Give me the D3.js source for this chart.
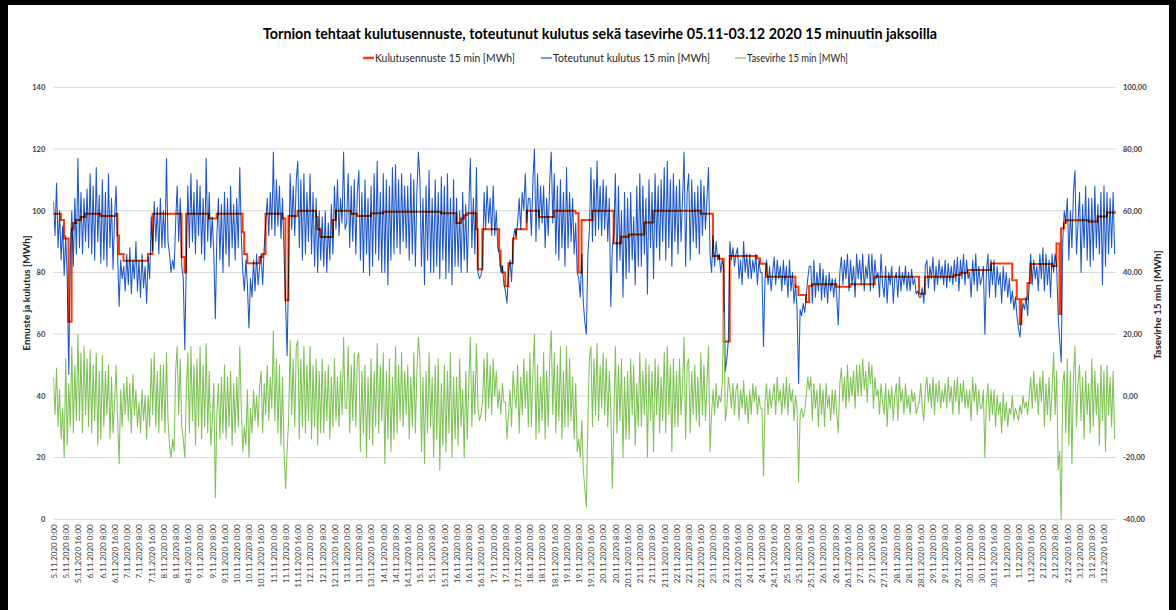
<!DOCTYPE html>
<html>
<head>
<meta charset="utf-8">
<script src="https://cdn.jsdelivr.net/npm/d3@7"></script>
<style>
  html, body { margin: 0; padding: 0; background: #fff; }
  svg { display: block; }
  text { font-family: Lato, "Open Sans", "Noto Sans", sans-serif; }
</style>
</head>
<body>
<svg id="chart" width="1176" height="610"></svg>
<script>
// Days on the category axis (15-minute periods, labelled every 8 hours)
const days = ["5.11.2020","6.11.2020","7.11.2020","8.11.2020","9.11.2020","10.11.2020",
  "11.11.2020","12.11.2020","13.11.2020","14.11.2020","15.11.2020","16.11.2020","17.11.2020",
  "18.11.2020","19.11.2020","20.11.2020","21.11.2020","22.11.2020","23.11.2020","24.11.2020",
  "25.11.2020","26.11.2020","27.11.2020","28.11.2020","29.11.2020","30.11.2020","1.12.2020",
  "2.12.2020","3.12.2020"];
const shifts = ["0:00", "8:00", "16:00"];

const leftTicks = [0, 20, 40, 60, 80, 100, 120, 140];
const rightTicks = [-40, -20, 0, 20, 40, 60, 80, 100];
const rightTickLabels = ["-40,00", "-20,00", "0,00", "20,00", "40,00", "60,00", "80,00", "100,00"];

// Forecast, hourly steps: [hour from 5.11.2020 0:00, MWh]
const forecastSteps = [
  [0,99],[5,97],[7,91],[10,64],[12,94],[13,96],[15,97],[18,98],[21,99],[31,98.3],[41,99],
  [42,92],[43,86],[46,83.8],[62,86],[65,99],[84,85],[86,80],[87,99],[102,97.5],[107,99],
  [124,93],[125,86],[127,83],[135,85],[137,86],[139,99],[150,97.5],[152,71],[154,98.3],
  [160,100],[172,98],[173,94],[175,91.5],[183,97],[185,100],[195,99],[199,98.3],[208,99.2],
  [216,99.7],[254,99.2],[264,96],[267,97.5],[269,98.5],[271,99.2],[277,94],[278,81],[281,94],
  [292,87],[293,82],[294,80],[296,75.5],[298,83],[301,91],[303,94],[310,100],[318,98],
  [328,100],[342,99.2],[344,80],[346,97],[353,100],[367,89.5],[372,91.6],[377,92.3],
  [387,96.2],[393,100],[424,99],[432,85.3],[436,84.4],[439,57.6],[443,85.3],[461,84.5],
  [463,82.8],[467,78.6],[486,75.4],[488,72.7],[493,70.4],[495,75.6],[497,76.2],[513,75.4],
  [522,76.2],[538,78.6],[567,73.1],[571,78.6],[590,79.2],[594,79.9],[599,80.8],[614,82.9],
  [628,77.5],[631,71.3],[633,63.2],[634,71.3],[638,76.6],[640,82.7],[654,82.1],[657,89.4],
  [659,66.5],[660,94.3],[662,96],[663,96.9],[678,96.5],[684,98.1],[690,99.4]
];

// Actual consumption, MWh, hourly (one row per day)
const actual = [
  103,92,109,88,100,84,95,79, 92,78,47,86,100,82,104,86, 117,88,106,86,104,90,107,88,
  112,86,108,84,114,90,105,83, 110,84,106,82,112,88,104,81, 98,108,86,69,84,78,82,74,
  86,76,88,73,84,78,90,74, 84,72,86,75,82,70,85,78, 98,87,103,90,101,86,104,88,
  100,88,117,90,86,80,84,81, 96,108,90,104,82,78,55,84, 108,88,112,90,106,86,110,92,
  108,86,104,84,117,90,106,88, 98,86,65,92,104,84,102,80, 106,86,104,82,108,88,102,84,
  104,88,114,92,80,74,84,76, 62,78,72,84,74,86,76,82, 86,76,88,96,104,92,106,94,
  119,92,110,95,108,91,104,86, 70,53,82,112,94,108,92,110, 116,88,110,84,112,86,106,90,
  112,86,106,82,104,80,100,84, 98,82,100,80,96,84,102,86, 108,94,110,92,104,96,119,94,
  96,112,88,108,90,110,86,106, 113,84,106,80,110,86,104,79, 108,82,112,86,116,84,106,80,
  112,80,110,76,108,84,114,86, 115,88,110,86,112,90,108,88, 108,84,112,86,110,82,106,119,
  110,82,104,76,108,84,113,80, 104,80,110,82,106,78,111,84, 108,78,112,80,104,76,110,82,
  104,82,100,80,106,84,102,80, 100,117,88,104,86,114,80,78, 79,82,106,94,108,96,104,92,
  108,92,100,88,86,80,82,76, 74,70,80,84,77,90,94,92, 96,104,94,106,100,112,96,104,
  104,92,110,120,90,112,94,108, 96,108,88,104,92,110,119,96, 112,86,108,84,110,88,106,82,
  114,88,106,90,104,86,96,80, 78,72,86,70,64,60,86,94, 114,90,110,92,116,94,108,92,
  110,94,108,90,104,69,88,92, 112,80,108,84,100,72,106,78, 104,80,106,84,98,76,108,82,
  112,82,108,86,104,73,110,88, 106,78,112,88,108,84,110,90, 114,84,116,88,110,82,112,90,
  108,86,110,90,104,119,82,106, 112,84,110,90,106,88,108,86, 110,92,108,94,104,114,86,80,
  92,82,90,84,86,80,84,82, 48,52,58,90,84,88,82,86, 88,78,84,76,90,80,86,78,
  86,78,84,80,86,76,84,80, 80,56,78,84,76,82,74,80, 85,76,84,78,82,74,84,76,
  82,72,84,74,80,70,76,68, 44,68,66,70,67,72,78,82, 82,70,84,72,80,74,83,71,
  81,72,79,70,80,74,78,72, 78,72,63,80,85,76,84,78, 86,74,84,76,82,72,86,78,
  84,76,86,74,82,78,86,74, 86,75,84,78,80,72,86,76, 72,82,70,80,76,82,70,78,
  80,72,82,74,80,76,82,74, 80,74,81,76,78,73,74,72, 72,75,70,82,84,75,82,78,
  85,74,82,76,84,78,82,76, 84,75,83,77,82,76,84,77, 85,74,84,78,86,76,84,78,
  80,72,84,76,86,74,82,76, 78,82,60,80,86,72,84,76, 84,72,82,76,80,70,82,74,
  80,72,78,70,74,68,72,66, 62,59,66,70,68,72,66,76, 86,76,84,78,82,74,86,78,
  88,74,86,76,84,72,86,80, 86,82,66,58,51,90,100,96, 104,84,100,88,106,113,86,96,
  106,80,102,88,108,84,104,82, 104,84,108,88,102,86,106,76, 108,82,106,86,104,88,106,86
];

// Balance error, MWh, hourly (one row per day)
const balance = [
  6,-6,9,-10,2,-14,-4,-20, 12,-16,4,-10,16,-12,10,-8, 20,-8,14,-12,16,-6,12,-10,
  15,-12,10,-8,14,-16,8,-14, 13,-10,8,-6,10,-14,6,-12, -2,10,-8,-22,2,-10,4,-6,
  6,-8,4,-12,7,-6,2,-10, -2,-12,2,-8,0,-14,0,-10, 12,-6,14,-10,8,-12,10,-8,
  10,-12,14,-8,-16,-20,-14,-18, 8,16,-6,12,-10,-14,-20,2, 14,-12,16,-8,10,-16,12,-10,
  16,-14,10,-10,17,-12,8,-16, -8,4,-33,-6,4,-14,6,-12, 10,-14,6,-10,8,-16,4,-12,
  6,-10,16,-4,-18,-10,-16,2, -20,-4,-12,2,-8,0,-10,3, 8,-12,4,-6,10,-8,6,-4,
  21,-8,12,-12,10,-16,6,-18, -30,-18,-8,18,-6,12,-10,16, 18,-14,12,-10,16,-12,10,-8,
  16,-14,10,-10,12,-16,8,-12, 12,-12,8,-8,10,-14,6,-10, 12,-8,6,-10,8,-6,19,-4,
  -4,16,-12,10,-8,14,-10,12, 14,-18,8,-12,10,-20,6,-14, 12,-16,8,-10,17,-12,10,-8,
  14,-22,8,-14,12,-18,6,-14, 16,-12,10,-8,14,-10,8,-6, 10,-14,6,-10,14,-12,8,19,
  12,-18,6,-22,8,-12,14,-10, 6,-20,10,-14,12,-24,4,-16, 10,-18,8,-12,14,-20,6,-14,
  6,-16,12,-10,2,-20,8,-14, 4,19,-10,8,-6,17,-4,-8, -6,-2,12,-8,14,-4,10,-6,
  12,0,8,-4,2,-6,4,-2, -2,-14,-6,2,-10,8,0,-4, 10,-12,6,-6,12,-4,8,-10,
  14,-10,8,20,-14,10,-12,6, -8,14,-14,8,-10,12,21,-6, 14,-12,10,-8,16,-14,8,-10,
  16,-10,12,-8,6,-14,4,-18, -14,-20,-8,-24,-30,-36,-8,12, 16,-10,12,-6,17,-8,10,-4,
  14,-6,12,-10,8,-4,-30,-8, 16,-12,10,-8,12,-20,6,-14, 8,-14,12,-6,10,-16,4,-10,
  14,-10,8,-6,12,-20,10,-8, 8,-18,12,-6,10,-12,6,-8, 14,-12,16,-6,10,-18,12,-10,
  8,-10,12,-6,4,19,-14,10, 12,-12,8,-6,10,-8,6,-10, 14,-6,10,-8,4,16,-18,-6,
  2,-6,4,-4,0,-2,4,27, -8,-4,6,2,-4,4,-6,2, 4,-8,2,-4,5,-6,0,-9,
  2,-6,4,-2,3,-6,0,-4, -4,-26,-2,4,-6,2,-4,0, 4,-6,6,-2,2,-6,4,-4,
  6,-6,4,-2,2,-8,0,-4, -28,-6,-4,-7,-5,0,6,2, 6,-8,4,-4,2,-10,4,-6,
  2,-10,4,-4,0,-8,2,-6, 2,-6,-12,4,9,-2,6,-4, 10,-2,6,0,8,-4,10,0,
  10,0,12,2,8,-2,11,4, 10,-4,6,0,2,-6,4,-2, -6,4,-10,2,-4,3,-8,0,
  4,-8,6,-2,2,-6,4,-4, 0,-6,2,-2,1,-6,-4,-2, 4,-4,-8,2,6,-2,4,-4,
  6,-6,4,-2,5,-4,2,-2, 4,-4,6,-2,3,-6,5,-2, 6,-6,4,-2,5,-4,2,-4,
  2,-8,6,-2,4,-6,2,-4, -4,2,-20,-2,4,-8,2,-6, 2,-10,0,-6,-2,-12,1,-8,
  -2,-10,-4,-6,0,-8,-4,-6, -8,-3,-6,0,-4,-2,-6,0, 6,-4,8,-2,4,-6,6,-2,
  8,-10,4,-6,6,-8,2,14, -6,8,-24,-18,-40,4,8,-12, 12,-16,8,-22,6,16,-10,4,
  10,-8,6,-14,8,-6,4,-12, 12,-10,8,-6,4,-16,10,-8, 8,-18,10,-6,6,-10,8,-14
];

const colors = { forecast: "#ff3a0a", actual: "#1f57c7", balance: "#7fc256" };

const svg = d3.select("#chart");
const plot = { left: 53.3, right: 1116, top: 87.3, bottom: 519.3 };
const slotsPerHour = 4;
const sampleHours = 1;
const totalSlots = days.length * 24 * slotsPerHour;

const x = d3.scaleLinear().domain([0, totalSlots]).range([plot.left, plot.right]);
const yL = d3.scaleLinear().domain([0, 140]).range([plot.bottom, plot.top]);
const yR = d3.scaleLinear().domain([-40, 100]).range([plot.bottom, plot.top]);

// frame
svg.append("rect").attr("x", 0).attr("y", 0).attr("width", 1176).attr("height", 610).attr("fill", "#fff");
svg.append("rect").attr("x", 0).attr("y", 0).attr("width", 8).attr("height", 610).attr("fill", "#000");
svg.append("rect").attr("x", 0).attr("y", 0).attr("width", 1176).attr("height", 5).attr("fill", "#000");
svg.append("rect").attr("x", 1169).attr("y", 0).attr("width", 7).attr("height", 610).attr("fill", "#000");

// title
svg.append("text").attr("x", 600).attr("y", 39).attr("text-anchor", "middle")
  .attr("font-size", 15.5).attr("font-weight", "bold").attr("fill", "#000")
  .attr("textLength", 674).attr("lengthAdjust", "spacingAndGlyphs")
  .text("Tornion tehtaat kulutusennuste, toteutunut kulutus sekä tasevirhe 05.11-03.12 2020 15 minuutin jaksoilla");

// gridlines
svg.append("g").selectAll("line").data(leftTicks).join("line")
  .attr("x1", plot.left).attr("x2", plot.right)
  .attr("y1", d => yL(d)).attr("y2", d => yL(d))
  .attr("stroke", "#d9d9d9").attr("stroke-width", 1);

// left axis
const gL = svg.append("g").attr("transform", `translate(${plot.left},0)`)
  .call(d3.axisLeft(yL).tickValues(leftTicks).tickSize(0).tickPadding(8));
gL.select(".domain").remove();
gL.selectAll("text").attr("font-size", 7.5).attr("font-weight", "bold").attr("fill", "#404040")
  .style("font-family", "Lato, sans-serif");

// right axis
const gR = svg.append("g").attr("transform", `translate(${plot.right},0)`)
  .call(d3.axisRight(yR).tickValues(rightTicks).tickSize(0).tickPadding(7)
    .tickFormat((d, i) => rightTickLabels[i]));
gR.select(".domain").remove();
gR.selectAll("text").attr("font-size", 7.5).attr("font-weight", "bold").attr("fill", "#404040")
  .style("font-family", "Lato, sans-serif");

// category axis labels
const tickSlots = [];
const tickNames = [];
days.forEach((d, di) => shifts.forEach((s, si) => {
  tickSlots.push((di * 3 + si) * 8 * slotsPerHour + 0.5);
  tickNames.push(d + " " + s);
}));
const gX = svg.append("g").attr("transform", `translate(0,${plot.bottom})`)
  .call(d3.axisBottom(x).tickValues(tickSlots).tickSize(0).tickFormat((d, i) => tickNames[i]));
gX.select(".domain").remove();
gX.selectAll("text")
  .attr("transform", "rotate(-90)")
  .attr("x", -5).attr("y", 0).attr("dy", "0.35em")
  .attr("text-anchor", "end")
  .attr("font-size", 8).attr("fill", "#404040")
  .style("font-family", "Lato, sans-serif");

// axis titles
svg.append("text").attr("transform", "translate(30,293) rotate(-90)")
  .attr("text-anchor", "middle").attr("font-size", 10).attr("font-weight", "bold").attr("fill", "#262626")
  .text("Ennuste ja kulutus  [MWh]");
svg.append("text").attr("transform", "translate(1161,305) rotate(-90)")
  .attr("text-anchor", "middle").attr("font-size", 10).attr("font-weight", "bold").attr("fill", "#262626")
  .text("Tasevirhe 15 min [MWh]");

// series
const samples = (arr) => arr.map((v, i) => ({ slot: i * sampleHours * slotsPerHour + 0.5, v }));

svg.append("clipPath").attr("id", "plotclip").append("rect")
  .attr("x", plot.left).attr("y", 0).attr("width", plot.right - plot.left).attr("height", plot.bottom + 1);
const series = svg.append("g").attr("clip-path", "url(#plotclip)");

series.append("path")
  .datum(samples(actual))
  .attr("fill", "none").attr("stroke", colors.actual).attr("stroke-width", 1.05)
  .attr("stroke-linejoin", "round")
  .attr("d", d3.line().x(d => x(d.slot)).y(d => yL(d.v)));

const steps = forecastSteps.map(([h, v]) => ({ slot: h * slotsPerHour, v }));
steps.push({ slot: totalSlots, v: forecastSteps[forecastSteps.length - 1][1] });
series.append("path")
  .datum(steps)
  .attr("fill", "none").attr("stroke", colors.forecast).attr("stroke-width", 2)
  .style("mix-blend-mode", "multiply")
  .attr("d", d3.line().curve(d3.curveStepAfter).x(d => x(d.slot)).y(d => yL(d.v)));

series.append("path")
  .datum(samples(balance))
  .attr("fill", "none").attr("stroke", colors.balance).attr("stroke-width", 1.05)
  .attr("stroke-linejoin", "round")
  .attr("d", d3.line().x(d => x(d.slot)).y(d => yR(d.v)));

// legend
const legendItems = [
  { name: "Kulutusennuste 15 min [MWh]", color: colors.forecast, w: 2.5, x: 363, len: 140 },
  { name: "Toteutunut kulutus 15 min [MWh]", color: colors.actual, w: 1.2, x: 541, len: 157 },
  { name: "Tasevirhe 15 min [MWh]", color: colors.balance, w: 1.2, x: 735, len: 101 }
];
const lg = svg.append("g").selectAll("g").data(legendItems).join("g")
  .attr("transform", d => `translate(${d.x},58)`);
lg.append("line").attr("x1", 0).attr("x2", 11).attr("y1", 0).attr("y2", 0)
  .attr("stroke", d => d.color).attr("stroke-width", d => d.w);
lg.append("text").attr("x", 12).attr("y", 0).attr("dy", "0.35em")
  .attr("font-size", 10.5).attr("fill", "#262626")
  .attr("textLength", d => d.len).attr("lengthAdjust", "spacingAndGlyphs")
  .text(d => d.name);
</script>
</body>
</html>
